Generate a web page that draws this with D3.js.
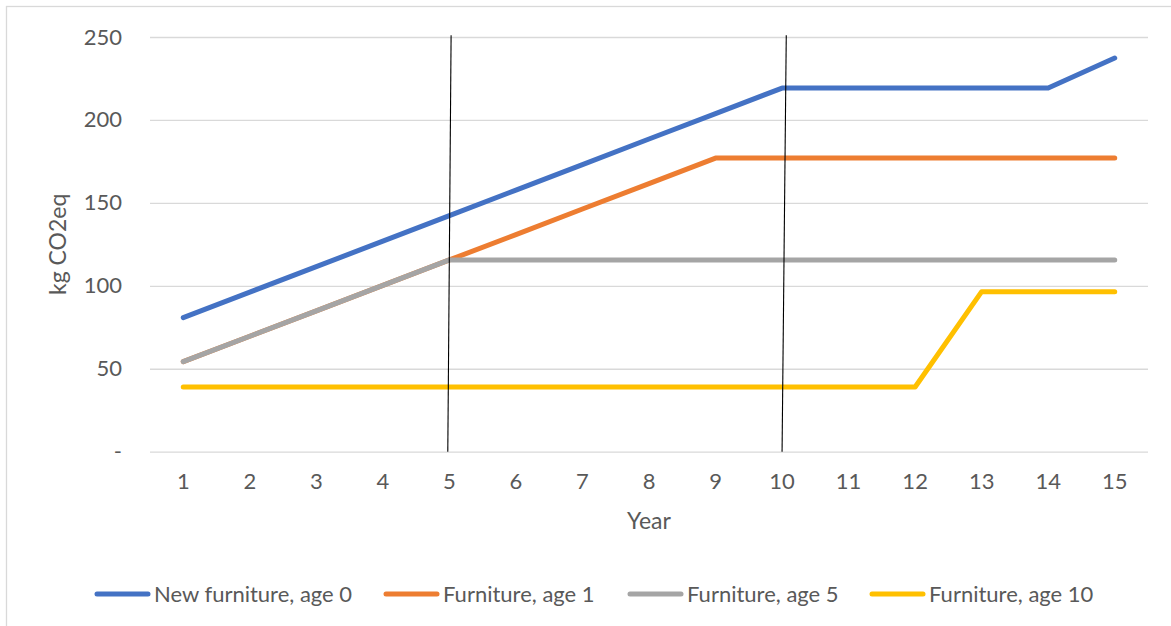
<!DOCTYPE html>
<html>
<head>
<meta charset="utf-8">
<script src="https://cdn.jsdelivr.net/npm/d3@7"></script>
<style>
  html, body { margin: 0; padding: 0; background: #fff; }
  svg { display: block; }
  text { font-family: Lato, "Open Sans", sans-serif; fill: #595959; }
</style>
</head>
<body>
<svg id="chart" width="1171" height="626"></svg>
<script>
// Cumulative emissions per year of use (kg CO2eq)
const years = [1, 2, 3, 4, 5, 6, 7, 8, 9, 10, 11, 12, 13, 14, 15];
const newFurnitureAge0 = [80.8, 96.2, 111.6, 126.9, 142.3, 157.7, 173.1, 188.5, 203.8, 219.2, 219.2, 219.2, 219.2, 219.2, 237.3];
const furnitureAge1 = [54.3, 69.6, 84.9, 100.3, 115.6, 130.9, 146.3, 161.6, 177.0, 177.0, 177.0, 177.0, 177.0, 177.0, 177.0];
const furnitureAge5 = [54.3, 69.6, 84.9, 100.3, 115.6, 115.6, 115.6, 115.6, 115.6, 115.6, 115.6, 115.6, 115.6, 115.6, 115.6];
const furnitureAge10 = [39.0, 39.0, 39.0, 39.0, 39.0, 39.0, 39.0, 39.0, 39.0, 39.0, 39.0, 39.0, 96.5, 96.5, 96.5];
const seriesNames = ["New furniture, age 0", "Furniture, age 1", "Furniture, age 5", "Furniture, age 10"];
const yTicks = [0, 50, 100, 150, 200, 250];
const markerYears = [5, 10];

const seriesValues = [newFurnitureAge0, furnitureAge1, furnitureAge5, furnitureAge10];
const colors = ["#4472C4", "#ED7D31", "#A5A5A5", "#FFC000"];

const svg = d3.select("#chart");
const plot = { left: 150, right: 1148, top: 37, bottom: 451.7 };

// Outer chart frame
svg.append("rect")
  .attr("x", 6.5).attr("y", 6.5)
  .attr("width", 1200).attr("height", 700)
  .attr("fill", "none").attr("stroke", "#d9d9d9").attr("stroke-width", 1.3);

const x = d3.scaleBand().domain(years).range([plot.left, plot.right]);
const cx = d => x(d) + x.bandwidth() / 2;
const y = d3.scaleLinear().domain([0, 250]).range([plot.bottom, plot.top]);

// Horizontal gridlines and value axis labels
const yAxis = d3.axisLeft(y).tickValues(yTicks)
  .tickSize(-(plot.right - plot.left)).tickPadding(28)
  .tickFormat(d => d === 0 ? "-" : d3.format("d")(d));
const gy = svg.append("g").attr("transform", `translate(${plot.left},0)`).call(yAxis);
gy.select(".domain").remove();
gy.selectAll(".tick line").attr("stroke", "#d9d9d9").attr("stroke-width", 1.3);
gy.selectAll(".tick text").attr("font-size", 22).attr("fill", "#595959")
  .attr("font-family", "Lato, sans-serif");

// Category axis labels
const xAxis = d3.axisBottom(x).tickSize(0).tickPadding(22);
const gx = svg.append("g").attr("transform", `translate(0,${plot.bottom})`).call(xAxis);
gx.select(".domain").remove();
gx.selectAll(".tick text").attr("font-size", 22).attr("fill", "#595959")
  .attr("font-family", "Lato, sans-serif");

// Axis titles
svg.append("text")
  .attr("x", cx(8)).attr("y", 529)
  .attr("text-anchor", "middle").attr("font-size", 23)
  .text("Year");
svg.append("text")
  .attr("transform", `translate(66,${(plot.top + plot.bottom) / 2}) rotate(-90)`)
  .attr("text-anchor", "middle").attr("font-size", 23)
  .text("kg CO2eq");

// Series lines
const line = d3.line().x((d, i) => cx(years[i])).y(d => y(d));
seriesValues.forEach((vals, i) => {
  svg.append("path")
    .datum(vals)
    .attr("d", line)
    .attr("fill", "none")
    .attr("stroke", colors[i])
    .attr("stroke-width", 5)
    .attr("stroke-linecap", "round")
    .attr("stroke-linejoin", "round");
});

// Hand-placed period markers (slightly leaning)
const markerLean = [[1.7, -1.6], [4.2, 0]];
markerYears.forEach((yr, i) => {
  svg.append("line")
    .attr("x1", cx(yr) + markerLean[i][0]).attr("y1", y(251))
    .attr("x2", cx(yr) + markerLean[i][1]).attr("y2", y(0))
    .attr("stroke", "#000").attr("stroke-width", 1.1);
});

// Legend
const legendY = 594;
const legendStart = [95, 384, 628, 870];
const legend = svg.append("g");
seriesNames.forEach((name, i) => {
  const g = legend.append("g").attr("transform", `translate(${legendStart[i]},${legendY})`);
  g.append("line").attr("x1", 2).attr("x2", 53).attr("y1", 0).attr("y2", 0)
    .attr("stroke", colors[i]).attr("stroke-width", 5).attr("stroke-linecap", "round");
  g.append("text").attr("x", 59).attr("y", 8).attr("font-size", 22).text(name);
});
</script>
</body>
</html>
